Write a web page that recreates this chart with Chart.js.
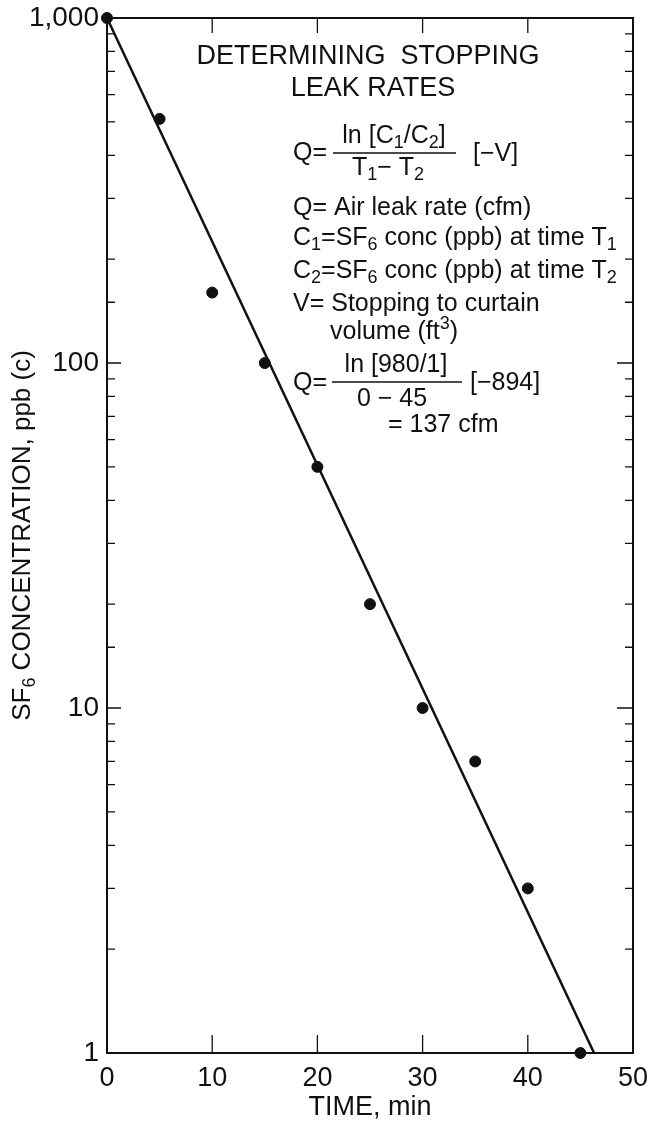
<!DOCTYPE html>
<html>
<head>
<meta charset="utf-8">
<script src="https://cdn.jsdelivr.net/npm/chart.js@4.4.0/dist/chart.umd.min.js"></script>
<style>
  html, body { margin: 0; padding: 0; background: #fff; }
  #wrap { width: 652px; height: 1128px; }
</style>
</head>
<body>
<div id="wrap"><canvas id="leakChart"></canvas></div>
<script>
// measured SF6 samples
var sampleTime = [0, 5, 10, 15, 20, 25, 30, 35, 40, 45];
var sampleConc = [1000, 510, 160, 100, 50, 20, 10, 7, 3, 1];

// fitted decay line
var fitTime = [0, 46.3];
var fitConc = [1000, 1];

var yTickValues = [1, 10, 100, 1000];
var yTickLabels = ['1', '10', '100', '1,000'];
var xTickValues = [10, 20, 30, 40];

var FONT = '"Liberation Sans", Arial, sans-serif';

function toPoints(xs, ys) {
  var pts = [];
  for (var i in xs) {
    pts.push({ x: xs[i], y: ys[i] });
  }
  return pts;
}

// draws a line of text made of runs; a run is a string or [text, 'sub'|'sup']
function drawRuns(ctx, x, y, runs, size, align) {
  var small = Math.round(size * 0.7);
  var widths = [];
  var total = 0;
  for (var i = 0; i < runs.length; i++) {
    var r = typeof runs[i] === 'string' ? [runs[i], ''] : runs[i];
    ctx.font = (r[1] ? small : size) + 'px ' + FONT;
    var w = ctx.measureText(r[0]).width;
    widths.push(w);
    total += w;
  }
  var cx = align === 'center' ? x - total / 2 : x;
  ctx.textAlign = 'left';
  ctx.textBaseline = 'middle';
  for (var j = 0; j < runs.length; j++) {
    var run = typeof runs[j] === 'string' ? [runs[j], ''] : runs[j];
    var dy = 0;
    if (run[1] === 'sub') dy = size * 0.28;
    if (run[1] === 'sup') dy = -size * 0.3;
    ctx.font = (run[1] ? small : size) + 'px ' + FONT;
    ctx.fillText(run[0], cx, y + dy);
    cx += widths[j];
  }
  return total;
}

var framePlugin = {
  id: 'framePlugin',
  afterDatasetsDraw: function(chart) {
    var ctx = chart.ctx;
    var a = chart.chartArea;
    var xs = chart.scales.x;
    var ys = chart.scales.y;
    ctx.save();
    ctx.strokeStyle = '#111';
    ctx.fillStyle = '#111';

    // box
    ctx.lineWidth = 2;
    ctx.strokeRect(a.left, a.top, a.right - a.left, a.bottom - a.top);

    // inward log ticks on left and right
    ctx.lineWidth = 1.3;
    ys.ticks.forEach(function(t) {
      if (t.value <= 1 || t.value >= 1000) return;
      var py = ys.getPixelForValue(t.value);
      var major = yTickValues.indexOf(t.value) >= 0;
      ctx.beginPath();
      ctx.moveTo(a.left, py);
      ctx.lineTo(a.left + (major ? 14 : 8), py);
      ctx.moveTo(a.right, py);
      ctx.lineTo(a.right - (major ? 16 : 8), py);
      ctx.stroke();
    });

    // inward time ticks top and bottom
    xTickValues.forEach(function(v) {
      var px = xs.getPixelForValue(v);
      ctx.beginPath();
      ctx.moveTo(px, a.bottom);
      ctx.lineTo(px, a.bottom - 18);
      ctx.moveTo(px, a.top);
      ctx.lineTo(px, a.top + 15);
      ctx.stroke();
    });

    // y axis title, rotated
    ctx.save();
    ctx.translate(23, (a.top + a.bottom) / 2);
    ctx.rotate(-Math.PI / 2);
    drawRuns(ctx, 0, 0, ['SF', ['6', 'sub'], ' CONCENTRATION, ppb (c)'], 26, 'center');
    ctx.restore();

    // x axis title
    drawRuns(ctx, (a.left + a.right) / 2, 1108, ['TIME, min'], 27, 'center');

    // annotation block
    drawRuns(ctx, 368, 57, ['DETERMINING  STOPPING'], 27, 'center');
    drawRuns(ctx, 373, 89, ['LEAK RATES'], 27, 'center');

    var fs = 25;
    // Q = ln[C1/C2] / (T1 - T2) [-V]
    drawRuns(ctx, 293, 153, ['Q='], fs, 'left');
    drawRuns(ctx, 394, 136, ['ln [C', ['1', 'sub'], '/C', ['2', 'sub'], ']'], fs, 'center');
    ctx.lineWidth = 1.5;
    ctx.beginPath();
    ctx.moveTo(333, 153);
    ctx.lineTo(456, 153);
    ctx.stroke();
    drawRuns(ctx, 388, 168, ['T', ['1', 'sub'], '\u2212 T', ['2', 'sub']], fs, 'center');
    drawRuns(ctx, 473, 154, ['[\u2212V]'], fs, 'left');

    drawRuns(ctx, 293, 208, ['Q= Air leak rate (cfm)'], fs, 'left');
    drawRuns(ctx, 293, 238, ['C', ['1', 'sub'], '=SF', ['6', 'sub'], ' conc (ppb) at time T', ['1', 'sub']], fs, 'left');
    drawRuns(ctx, 293, 271, ['C', ['2', 'sub'], '=SF', ['6', 'sub'], ' conc (ppb) at time T', ['2', 'sub']], fs, 'left');
    drawRuns(ctx, 293, 304, ['V= Stopping to curtain'], fs, 'left');
    drawRuns(ctx, 330, 332, ['volume (ft', ['3', 'sup'], ')'], fs, 'left');

    // Q = ln[980/1] / (0 - 45) [-894]
    drawRuns(ctx, 293, 383, ['Q='], fs, 'left');
    drawRuns(ctx, 396, 365, ['ln [980/1]'], fs, 'center');
    ctx.beginPath();
    ctx.moveTo(332, 382);
    ctx.lineTo(462, 382);
    ctx.stroke();
    drawRuns(ctx, 392, 399, ['0 \u2212 45'], fs, 'center');
    drawRuns(ctx, 470, 383, ['[\u2212894]'], fs, 'left');
    drawRuns(ctx, 388, 425, ['= 137 cfm'], fs, 'left');

    ctx.restore();
  }
};

var ctx = document.getElementById('leakChart').getContext('2d');

var chart = new Chart(ctx, {
  type: 'scatter',
  data: {
    datasets: [{
      label: 'Fit',
      type: 'line',
      data: toPoints(fitTime, fitConc),
      borderColor: '#111',
      borderWidth: 2.5,
      pointRadius: 0,
      fill: false,
      clip: false
    }, {
      label: 'SF6',
      data: toPoints(sampleTime, sampleConc),
      backgroundColor: '#111',
      borderColor: '#111',
      pointRadius: 5.5,
      pointHoverRadius: 5.5,
      clip: false
    }]
  },
  options: {
    responsive: true,
    maintainAspectRatio: false,
    animation: false,
    devicePixelRatio: 1,
    layout: { padding: { left: 0, top: 18, right: 19, bottom: 0 } },
    plugins: {
      legend: { display: false },
      tooltip: { enabled: false }
    },
    scales: {
      x: {
        type: 'linear',
        min: 0,
        max: 50,
        grid: { display: false, drawTicks: false },
        border: { display: false },
        ticks: {
          stepSize: 10,
          padding: 9,
          color: '#111',
          font: { family: FONT, size: 27 }
        },
        afterFit: function(scale) {
          scale.height = 75;
          scale.paddingLeft = 0;
          scale.paddingRight = 0;
        }
      },
      y: {
        type: 'logarithmic',
        min: 1,
        max: 1000,
        grid: { display: false, drawTicks: false },
        border: { display: false },
        ticks: {
          autoSkip: false,
          padding: 8,
          color: '#111',
          font: { family: FONT, size: 28 },
          callback: function(v) {
            var i = yTickValues.indexOf(v);
            return i >= 0 ? yTickLabels[i] : '';
          }
        },
        afterFit: function(scale) {
          scale.width = 107;
          scale.paddingTop = 0;
          scale.paddingBottom = 0;
        }
      }
    }
  },
  plugins: [framePlugin]
});
</script>
</body>
</html>
